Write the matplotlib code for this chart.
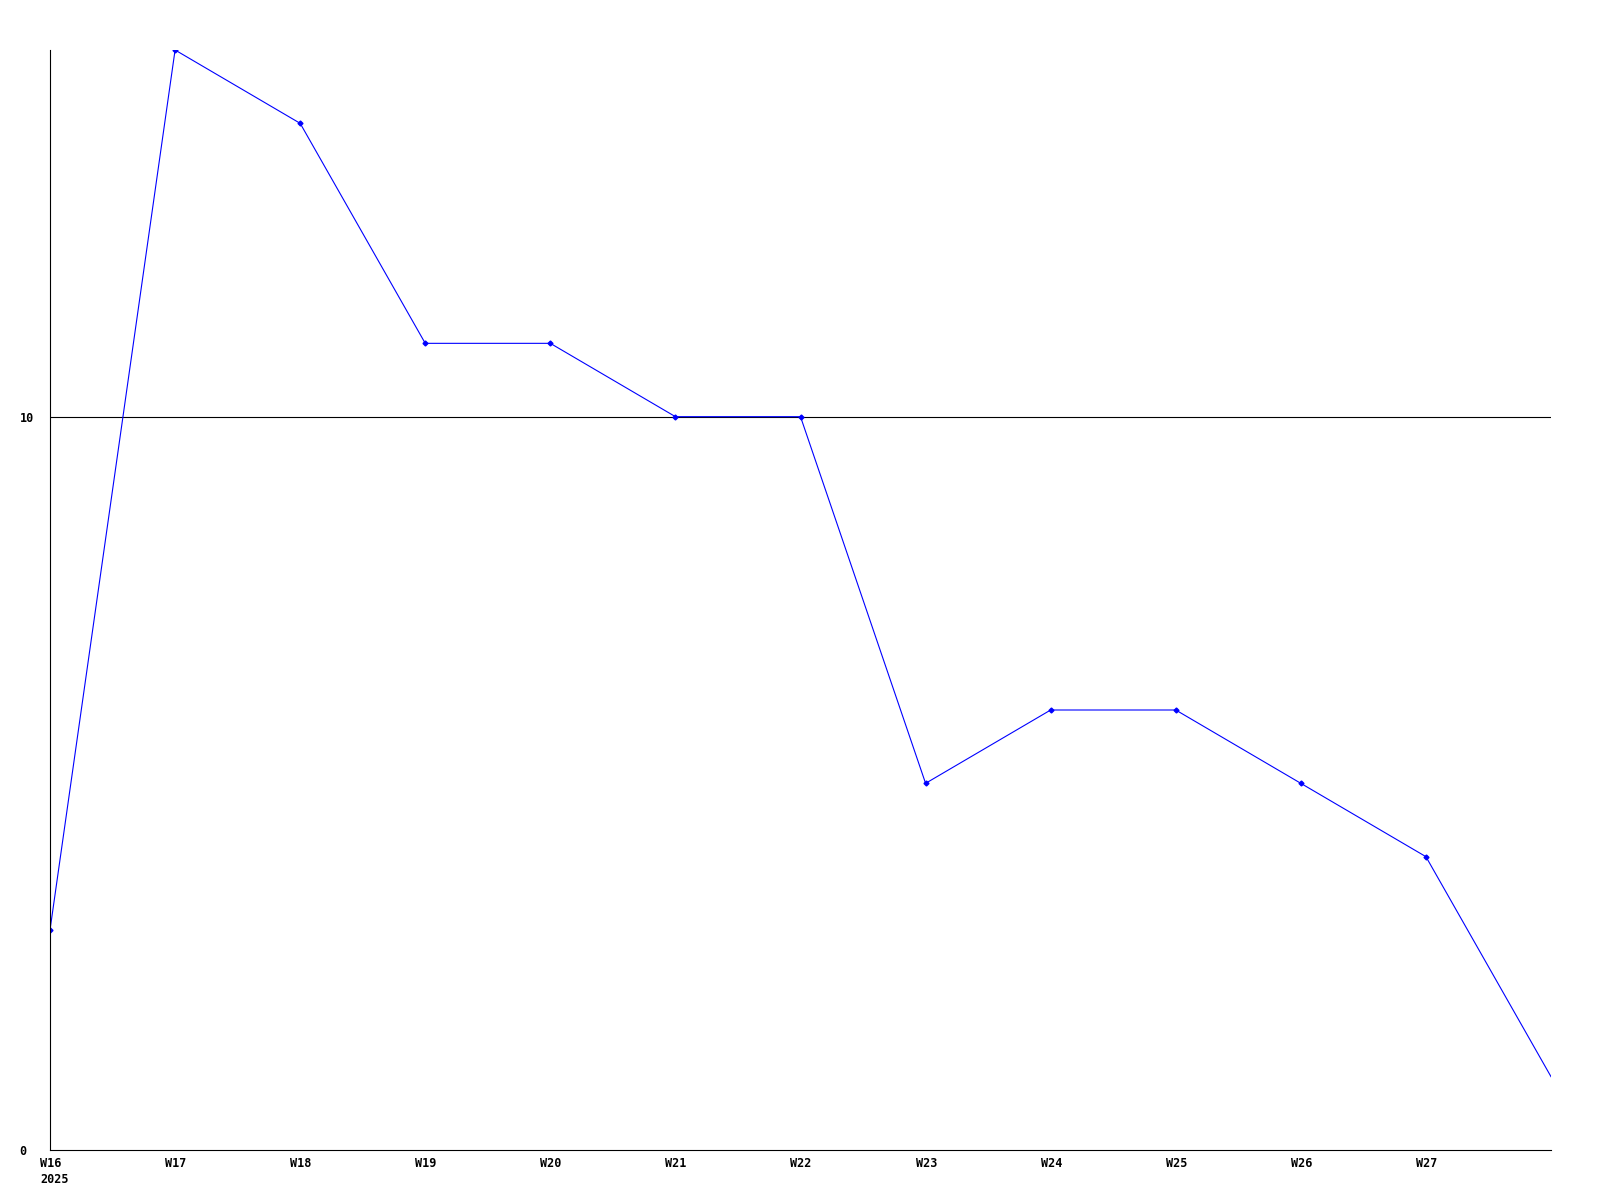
import matplotlib
matplotlib.use('Agg')
import matplotlib.pyplot as plt
import matplotlib.transforms as mtransforms

weeks = ['W16\n2025', 'W17', 'W18', 'W19', 'W20', 'W21', 'W22', 'W23', 'W24', 'W25', 'W26', 'W27']
values = [3, 15, 14, 11, 11, 10, 10, 5, 6, 6, 5, 4, 1]  # last point is W28, at the right edge
y_ticks = [0, 10]

x = list(range(len(values)))

fig = plt.figure(figsize=(16, 12), dpi=100)
ax = fig.add_axes([50 / 1600, 1 - 1150 / 1200, 1501 / 1600, 1100 / 1200])

# 10 reference line
ax.axhline(10, color='black', linewidth=0.8, zorder=1)

ax.plot(x, values, color='#0000ff', linewidth=0.8, marker='D', markersize=2.5,
        markevery=list(range(len(values) - 1)), zorder=2)

ax.set_xlim(0, len(values) - 1)
ax.set_ylim(0, 15)

for s in ['top', 'right']:
    ax.spines[s].set_visible(False)
for s in ['left', 'bottom']:
    ax.spines[s].set_linewidth(0.8)

font = dict(family='DejaVu Sans Mono', weight='bold', size=8.5)

ax.set_xticks(range(len(weeks)))
ax.set_xticklabels(weeks, ha='left', linespacing=1.35, **font)
ax.set_yticks(y_ticks)
ax.set_yticklabels([str(v) for v in y_ticks], ha='left', **font)
ax.tick_params(axis='x', length=0, pad=5)
ax.tick_params(axis='y', length=0, pad=22)

offset = mtransforms.ScaledTranslation(-10 / 100, 0, fig.dpi_scale_trans)
for lab in ax.get_xticklabels():
    lab.set_transform(lab.get_transform() + offset)

fig.savefig('out.png', dpi=100)
